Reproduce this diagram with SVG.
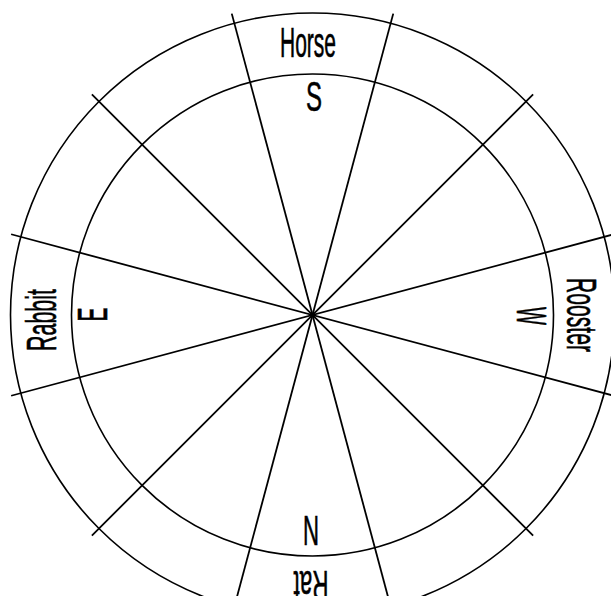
<svg xmlns="http://www.w3.org/2000/svg" width="611" height="596" viewBox="0 0 611 596">
<style>
.ring{fill:none;stroke:#000;stroke-width:1.6}
.spoke{stroke:#000;stroke-width:1.8;fill:none}
.lbl{font-family:"Liberation Sans",Arial,sans-serif;font-size:42px;fill:#000;stroke:#000;stroke-width:0.6;text-anchor:middle}
</style>
<rect width="611" height="596" fill="#fff"/>
<g id="rings">
<circle class="ring" cx="312.5" cy="315" r="302"/>
<circle class="ring" cx="312.5" cy="315" r="241"/>
</g>
<g id="spokes">
<line class="spoke" x1="11.13" y1="234.25" x2="613.87" y2="395.75"/>
<line class="spoke" x1="11.13" y1="395.75" x2="613.87" y2="234.25"/>
<line class="spoke" x1="91.88" y1="94.38" x2="533.12" y2="535.62"/>
<line class="spoke" x1="91.88" y1="535.62" x2="533.12" y2="94.38"/>
<line class="spoke" x1="231.75" y1="13.63" x2="393.25" y2="616.37"/>
<line class="spoke" x1="393.25" y1="13.63" x2="231.75" y2="616.37"/>
</g>
<g id="south">
<text class="lbl" x="308" y="57" textLength="56" lengthAdjust="spacingAndGlyphs">Horse</text>
<text class="lbl" x="314" y="110.5" textLength="16" lengthAdjust="spacingAndGlyphs">S</text>
</g>
<g id="east">
<text class="lbl" transform="translate(56,320) rotate(-90)" x="0" y="0" textLength="62" lengthAdjust="spacingAndGlyphs">Rabbit</text>
<text class="lbl" transform="translate(107,314.5) rotate(-90)" x="0" y="0" textLength="14" lengthAdjust="spacingAndGlyphs">E</text>
</g>
<g id="west">
<text class="lbl" transform="translate(567,315) rotate(90)" x="0" y="0" textLength="74" lengthAdjust="spacingAndGlyphs">Rooster</text>
<text class="lbl" transform="translate(517,316) rotate(90)" x="0" y="0" textLength="18" lengthAdjust="spacingAndGlyphs">W</text>
</g>
<g id="north">
<text class="lbl" x="311" y="545" textLength="16" lengthAdjust="spacingAndGlyphs">N</text>
<text class="lbl" transform="translate(311,571) rotate(180)" x="0" y="0" textLength="35" lengthAdjust="spacingAndGlyphs">Rat</text>
</g>
</svg>
